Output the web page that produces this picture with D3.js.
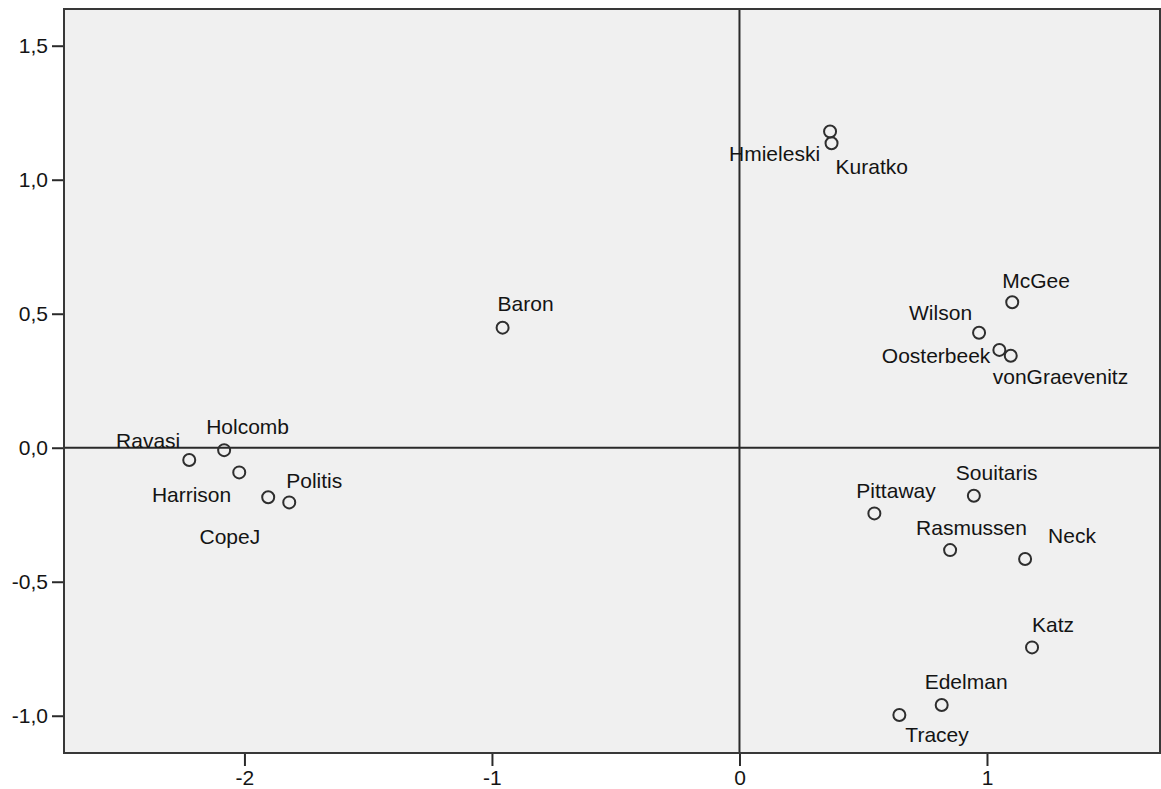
<!DOCTYPE html>
<html>
<head>
<meta charset="utf-8">
<script src="https://cdn.jsdelivr.net/npm/d3@7"></script>
<style>
  html, body { margin: 0; padding: 0; background: #ffffff; }
  svg { display: block; }
  text { font-family: "Liberation Sans", Arial, sans-serif; fill: #141414; }
</style>
</head>
<body>
<svg id="chart" width="1161" height="789"></svg>
<script>
// Author names and their coordinates on the two dimensions
const names = ["Baron", "Hmieleski", "Kuratko", "McGee", "Wilson", "Oosterbeek", "vonGraevenitz",
  "Ravasi", "Holcomb", "Harrison", "CopeJ", "Politis",
  "Pittaway", "Souitaris", "Rasmussen", "Neck", "Katz", "Edelman", "Tracey"];
const dim1 = [-0.957, 0.366, 0.372, 1.102, 0.968, 1.050, 1.096,
  -2.223, -2.082, -2.021, -1.904, -1.819,
  0.545, 0.947, 0.851, 1.154, 1.182, 0.817, 0.646];
const dim2 = [0.448, 1.180, 1.136, 0.543, 0.429, 0.365, 0.343,
  -0.046, -0.009, -0.092, -0.185, -0.204,
  -0.245, -0.179, -0.382, -0.415, -0.745, -0.960, -0.997];

// Axis extents and tick values
const xExtent = [-2.729, 1.699];
const yExtent = [-1.139, 1.637];
const xTicks = [-2, -1, 0, 1];
const yTicks = [-1.0, -0.5, 0.0, 0.5, 1.0, 1.5];

// Label placement around each marker: [dx, dy, anchor]
const labelPlacement = [
  [-5, -24, "start"], [-10, 22, "end"], [4, 23, "start"], [-10, -22, "start"],
  [-7, -20, "end"], [-9, 6, "end"], [-18, 21, "start"],
  [-9, -19, "end"], [-18, -23, "start"], [-8, 22, "end"], [-8, 39, "end"], [-3, -22, "start"],
  [-18, -23, "start"], [-18, -23, "start"], [-34, -22, "start"], [23, -23, "start"],
  [0, -23, "start"], [-17, -23, "start"], [6, 20, "start"]
];

const svg = d3.select("#chart");
const plot = { left: 64, top: 9, right: 1160, bottom: 753 };

const x = d3.scaleLinear().domain(xExtent).range([plot.left, plot.right]);
const y = d3.scaleLinear().domain(yExtent).range([plot.bottom, plot.top]);

const locale = d3.formatLocale({ decimal: ",", thousands: ".", grouping: [3], currency: ["", ""], minus: "-" });
const fmtY = locale.format(".1f");
const fmtX = locale.format("d");

// plot background
svg.append("rect")
  .attr("x", plot.left).attr("y", plot.top)
  .attr("width", plot.right - plot.left).attr("height", plot.bottom - plot.top)
  .attr("fill", "#f0f0f0");

// reference lines through the origin
svg.append("line")
  .attr("x1", x(0)).attr("x2", x(0))
  .attr("y1", plot.top).attr("y2", plot.bottom)
  .attr("stroke", "#2a2a2a").attr("stroke-width", 2);
svg.append("line")
  .attr("x1", plot.left).attr("x2", plot.right)
  .attr("y1", y(0)).attr("y2", y(0))
  .attr("stroke", "#2a2a2a").attr("stroke-width", 2);

// axes
const yAxis = svg.append("g")
  .attr("transform", `translate(${plot.left},0)`)
  .call(d3.axisLeft(y).tickValues(yTicks).tickFormat(fmtY).tickSize(12).tickPadding(4));
const xAxis = svg.append("g")
  .attr("transform", `translate(0,${plot.bottom})`)
  .call(d3.axisBottom(x).tickValues(xTicks).tickFormat(fmtX).tickSize(13).tickPadding(4));

[yAxis, xAxis].forEach(g => {
  g.select(".domain").remove();
  g.selectAll(".tick line").attr("stroke", "#2a2a2a").attr("stroke-width", 2);
  g.selectAll(".tick text")
    .attr("font-size", 21)
    .style("font-family", "'Liberation Sans', Arial, sans-serif")
    .attr("fill", "#141414");
});

// plot frame
svg.append("rect")
  .attr("x", plot.left).attr("y", plot.top)
  .attr("width", plot.right - plot.left).attr("height", plot.bottom - plot.top)
  .attr("fill", "none")
  .attr("stroke", "#383838").attr("stroke-width", 2);

// markers and labels
const points = names.map((n, i) => ({ name: n, d1: dim1[i], d2: dim2[i], place: labelPlacement[i] }));

svg.append("g").selectAll("circle")
  .data(points)
  .join("circle")
  .attr("cx", d => x(d.d1))
  .attr("cy", d => y(d.d2))
  .attr("r", 6)
  .attr("fill", "none")
  .attr("stroke", "#2e2e2e")
  .attr("stroke-width", 2);

svg.append("g").selectAll("text")
  .data(points)
  .join("text")
  .attr("x", d => x(d.d1) + d.place[0])
  .attr("y", d => y(d.d2) + d.place[1])
  .attr("dy", "0.35em")
  .attr("text-anchor", d => d.place[2])
  .attr("font-size", 21)
  .text(d => d.name);
</script>
</body>
</html>
